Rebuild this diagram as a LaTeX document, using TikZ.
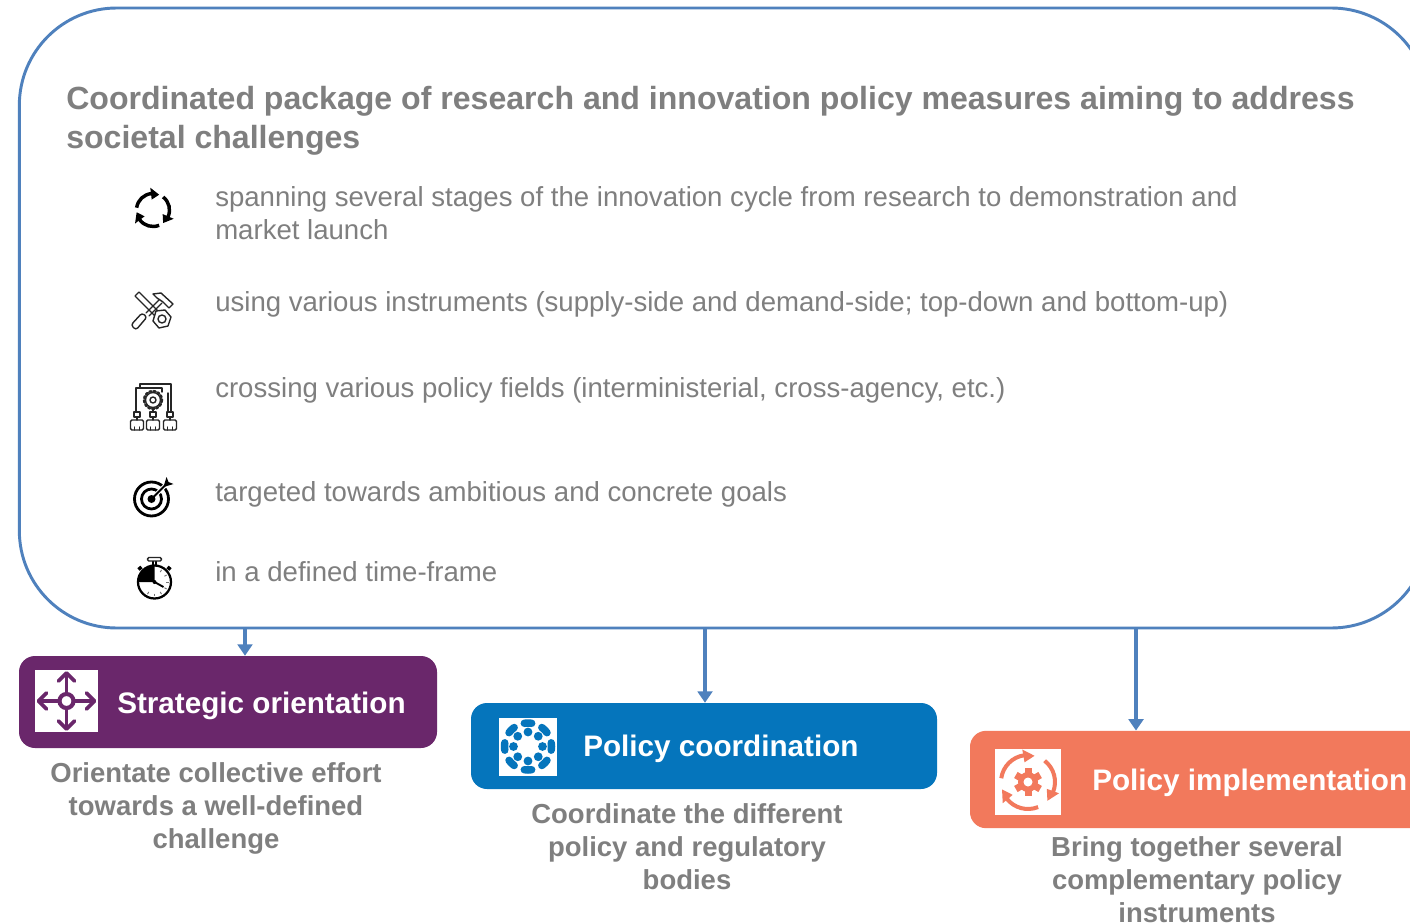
\documentclass[tikz,border=0pt]{standalone}
\usepackage{fontspec}
\setmainfont{Liberation Sans}
\usetikzlibrary{arrows.meta}
\definecolor{linkblue}{HTML}{4F81BD}
\definecolor{txtgray}{HTML}{7F7F7F}
\definecolor{stratpurple}{HTML}{6A276B}
\definecolor{coordblue}{HTML}{0575BC}
\definecolor{implorange}{HTML}{F2795C}
\tikzset{
 frame/.style={draw=linkblue,line width=2.2pt,rounded corners=73pt,inner sep=0pt,minimum width=1057pt,minimum height=465pt,fill=white},
 band/.style={rounded corners=12pt,inner sep=0pt},
 iconsq/.style={fill=white,inner sep=0pt,minimum size=#1},
 link/.style={draw=linkblue,line width=2.8pt,-{Triangle[length=8.5pt,width=11pt]}},
 heading/.style={anchor=north west,inner sep=0pt,align=left,text=txtgray,font=\fontsize{24.05}{29.25}\selectfont\bfseries},
 item/.style={anchor=north west,inner sep=0pt,align=left,text=txtgray,font=\fontsize{20.68}{24.75}\selectfont},
 captext/.style={anchor=north,inner sep=0pt,align=center,text=txtgray,font=\fontsize{20.6}{24.75}\selectfont\bfseries},
 bandlabel/.style={anchor=west,inner sep=0pt,text=white,font=\fontsize{22.25}{28}\selectfont\bfseries},
 ico/.style={draw=black!85,line width=1.05pt,line cap=round,line join=round},
}
\begin{document}
\begin{tikzpicture}[x=0.75pt,y=0.75pt]
\useasboundingbox (0,0) rectangle (1410,-924);
\clip (0,0) rectangle (1410,-924);
\fill[white] (0,0) rectangle (1410,-924);
% frame
\node[frame] (outer) at (724,-318) {};
\node[heading] (title) at (66,-86) {Coordinated package of research and innovation policy measures aiming to address\\societal challenges};
\node[item] (t1) at (215,-186) {spanning several stages of the innovation cycle from research to demonstration and\\market launch};
\node[item] (t2) at (215,-291) {using various instruments (supply-side and demand-side; top-down and bottom-up)};
\node[item] (t3) at (215,-377) {crossing various policy fields (interministerial, cross-agency, etc.)};
\node[item] (t4) at (215,-481) {targeted towards ambitious and concrete goals};
\node[item] (t5) at (215,-561) {in a defined time-frame};
% cycle icon
\begin{scope}[shift={(153,-210)}]
 \foreach \a in {0,120,240}{
  \begin{scope}[rotate=\a]
  \draw[black,line width=2.6pt] (172:16.5) arc (172:95:16.5);
  \fill[black] (97:22.5) -- (97:10.5) -- (68:16.5) -- cycle;
  \end{scope}}
\end{scope}
% tools icon
\begin{scope}[shift={(153,-311)},yscale=-1]
 \draw[ico] (-18,-15) -- (-14,-19) -- (8,3) (-18,-15) -- (4,7);
 \draw[ico,rounded corners=2pt] (-22,14) -- (-11,2) -- (-6,6) -- (-17,19) -- cycle;
 \draw[ico] (-7,2) -- (6,-11) (-4,5) -- (9,-8);
 \draw[ico,fill=white] (0,-17) -- (8,-18) -- (20,-7) -- (16,-3) -- (10,-9) -- (4,-13) -- cycle;
 \draw[ico,fill=white] (3,0) -- (12,-1) -- (18,6) -- (15,15) -- (6,17) -- (0,10) -- cycle;
 \draw[ico] (9,8) circle (4);
\end{scope}
% org icon
\begin{scope}[shift={(153,-407)},yscale=-1]
 \draw[ico] (-17,5) -- (-17,-19) -- (9,-19) -- (9,-15);
 \draw[ico] (-13,-19) -- (-13,-23) -- (18,-23) -- (18,5) (15,-14) -- (15,5);
 \draw[ico] (0,-7) circle (7.5);
 \draw[ico,line width=1.8pt,dash pattern=on 1.6pt off 1.6pt] (0,-7) circle (9);
 \draw[ico] (0,-7) circle (3);
 \draw[ico] (0,2) -- (0,5);
 \foreach \x in {-16,0,17}{
  \draw[ico] (\x-3,5) rectangle (\x+3,10);
  \draw[ico] (\x,10) -- (\x,13);
  \draw[ico,rounded corners=1pt] (\x-6.5,13) rectangle (\x+6.5,23);
  \draw[ico] (\x-2.5,23) -- (\x-2.5,20) (\x+2.5,23) -- (\x+2.5,20);
 }
\end{scope}
% target icon
\begin{scope}[shift={(151.5,-499)}]
 \draw[black,line width=2.1pt] (0,0) circle (17);
 \draw[black,line width=2.1pt] (0,0) circle (10);
 \fill[white] (3,6) -- (6,3) -- (16,13) -- (13,16) -- cycle;
 \fill[black] (0,0) circle (4);
 \draw[black,line width=1.5pt] (0,0) -- (15,15);
 \fill[black] (12,12) -- (15,22) -- (17,17) -- (22,15) -- cycle;
\end{scope}
% stopwatch icon
\begin{scope}[shift={(154.5,-582)}]
 \fill[black] (0,0) -- (0,16) arc (90:180:16) -- cycle;
 \draw[black,line width=1.7pt] (0,0) circle (16.5);
 \draw[black,line width=1.2pt] (-1.5,17) -- (-1.5,21) (1.5,17) -- (1.5,21);
 \draw[black!85,line width=1.1pt,rounded corners=1pt] (-7,21) rectangle (7,24.5);
 \draw[black,line width=2.6pt] (-13,15) -- (-16,12.5) (13,15) -- (16,12.5);
 \draw[black,line width=1.4pt] (0,0) -- (9,-5);
 \fill[black] (0,0) circle (2);
 \foreach \a in {-120,-90,-60,-30,0,30,60}{\draw[black!55,line width=.7pt] (\a:11.5) -- (\a:14);}
\end{scope}
% strategic
\node[band,fill=stratpurple,minimum width=313.5pt,minimum height=69pt] (strat) at (228,-702) {};
\node[iconsq=47pt] (stratico) at (66.5,-701) {};
\begin{scope}[shift={(stratico.center)}]
 \draw[stratpurple,line width=3.1pt] (0,0) circle (7);
 \foreach \a in {0,90,180,270}{
  \begin{scope}[rotate=\a]
  \draw[stratpurple,line width=2.9pt] (8,0) -- (28,0);
  \draw[stratpurple,line width=2.9pt,line cap=round,line join=round] (20,8) -- (28,0) -- (20,-8);
  \end{scope}}
\end{scope}
\node[bandlabel] (stratl) at (117,-705.5) {Strategic orientation};
\node[captext] (stratc) at (216,-762) {Orientate collective effort\\towards a well-defined\\challenge};
% coordination
\node[band,fill=coordblue,minimum width=349.5pt,minimum height=64.5pt] (coord) at (704,-746) {};
\node[iconsq=43.5pt] (coordico) at (528,-746.5) {};
\begin{scope}[shift={(coordico.center)}]
 \foreach \a in {0,45,...,315}{
  \fill[coordblue] (\a:14.5) circle (4.4);
  \draw[coordblue,line width=5.6pt,line cap=round] (\a-9:23.5) arc (\a-9:\a+9:23.5);
 }
\end{scope}
\node[bandlabel] (coordl) at (583,-749) {Policy coordination};
\node[captext] (coordc) at (687,-803) {Coordinate the different\\policy and regulatory\\bodies};
% implementation
\node[band,fill=implorange,minimum width=345pt,minimum height=73pt] (impl) at (1200,-779.5) {};
\node[iconsq=50pt] (implico) at (1028,-782) {};
\begin{scope}[shift={(implico.center)}]
 \foreach \a in {0,120,240}{
  \begin{scope}[rotate=\a]
  \draw[implorange,line width=3pt] (172:27) arc (172:98:27);
  \fill[implorange] (100:20) -- (100:33) -- (76:27) -- cycle;
  \end{scope}}
 \fill[implorange] (0,0) circle (10);
 \foreach \a in {0,60,...,300}{\fill[implorange,rotate=\a] (-3.5,8) rectangle (3.5,14);}
 \fill[white] (0,0) circle (4.5);
\end{scope}
\node[bandlabel] (impll) at (1092,-782.5) {Policy implementation};
\node[captext] (implc) at (1197,-836) {Bring together several\\complementary policy\\instruments};
% connectors
\coordinate (s1) at (245,-628);
\coordinate (s2) at (705,-628);
\coordinate (s3) at (1136,-628);
\draw[link] (s1) -- (strat.north -| s1);
\draw[link] (s2) -- (coord.north -| s2);
\draw[link] (s3) -- (impl.north -| s3);
\end{tikzpicture}
\end{document}
